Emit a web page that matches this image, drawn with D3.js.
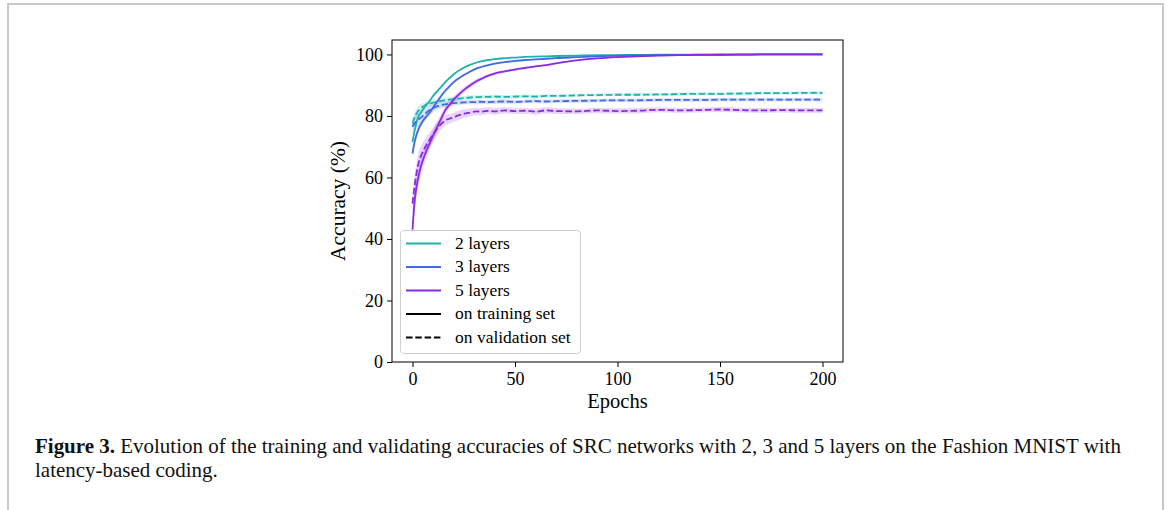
<!DOCTYPE html>
<html>
<head>
<meta charset="utf-8">
<script src="https://cdn.jsdelivr.net/npm/d3@7"></script>
<style>
  body { margin: 0; background: #fff; }
  svg { display: block; }
</style>
</head>
<body>
<script>
const W = 1167, H = 510;

const epochs = [0,1,2,3,4,5,6,7,8,10,12,14,16,18,20,22,25,28,31,34,37,40,45,50,55,60,65,70,80,90,100,110,120,130,140,150,160,170,180,190,200];

const train2 = [71.6,75,78,80,81,82,83,83.8,84.5,86.5,88,89.5,91,92.3,93.5,94.5,95.7,96.6,97.3,97.8,98.2,98.5,98.8,99,99.2,99.3,99.4,99.5,99.65,99.75,99.8,99.85,99.9,99.9,99.95,99.95,100,100,100,100,100];
const val2 = [77.5,79.5,80.8,81.8,82.5,83,83.4,83.8,84,84.3,84.6,84.9,85.1,85.3,85.5,85.6,85.8,86,86.1,86.2,86.2,86.3,86.2,86.3,86.4,86.3,86.5,86.5,86.7,86.8,86.9,86.9,87,87.1,87.2,87.2,87.3,87.4,87.4,87.5,87.5];
const train3 = [67.8,71.5,74,75.8,77.2,78.3,79.2,80,80.8,82.7,84.6,86.5,88.2,89.6,90.9,92,93.3,94.4,95.4,96,96.5,97,97.5,97.9,98.2,98.4,98.6,98.8,99.1,99.4,99.6,99.7,99.8,99.85,99.9,99.9,99.95,100,100,100,100];
const val3 = [76.5,77.5,78.3,78.9,79.4,80,80.6,81.2,81.7,82.5,83.1,83.5,83.8,84,84.2,84.3,84.4,84.5,84.5,84.6,84.5,84.6,84.7,84.6,84.7,84.8,84.7,84.8,84.9,85,85.1,85.1,85.2,85.2,85.2,85.3,85.3,85.3,85.3,85.3,85.3];
const train5 = [43,52,57,60.5,63.3,65.5,67.3,69,70.5,73.5,76.4,79.2,81.9,83.6,85.2,86.6,88.4,89.9,91.2,92.2,93.1,93.8,94.5,95.1,95.6,96.1,96.5,97.1,98.1,98.7,99.1,99.4,99.6,99.75,99.85,99.9,99.95,100,100,100,100];
const val5 = [51.5,57,61.5,64.8,66.8,68.3,69.6,70.8,71.9,74,75.9,77.4,78.6,79.1,79.5,80.1,80.7,81.1,81.5,81.4,81.7,81.5,81.8,81.6,81.7,81.4,81.8,81.6,81.5,81.8,81.6,81.7,82,81.8,81.9,82.1,81.9,81.8,81.9,81.8,81.8];

// spread (std) around each curve
const train2Std = [1.2,1,0.9,0.8,0.7,0.7,0.6,0.6,0.6,0.5,0.5,0.4,0.4,0.4,0.3,0.3,0.3,0.2,0.2,0.2,0.2,0.15,0.15,0.1,0.1,0.1,0.1,0.1,0.1,0.05,0.05,0.05,0.05,0.05,0.05,0.05,0,0,0,0,0];
const val2Std = [1.8,1.6,1.5,1.4,1.3,1.2,1.1,1,1,0.9,0.9,0.8,0.8,0.8,0.7,0.7,0.7,0.7,0.6,0.6,0.6,0.6,0.6,0.6,0.6,0.6,0.6,0.6,0.5,0.5,0.5,0.5,0.5,0.5,0.5,0.5,0.5,0.5,0.5,0.5,0.5];
const train3Std = [1.5,1.3,1.2,1.1,1,0.9,0.9,0.8,0.8,0.7,0.6,0.6,0.5,0.5,0.4,0.4,0.3,0.3,0.3,0.2,0.2,0.2,0.2,0.15,0.15,0.1,0.1,0.1,0.1,0.05,0.05,0.05,0.05,0.05,0.05,0,0,0,0,0,0];
const val3Std = [2.5,2.4,2.3,2.2,2,1.9,1.8,1.6,1.5,1.3,1.1,1,0.9,0.9,0.8,0.8,0.7,0.7,0.7,0.7,0.7,0.7,0.7,0.6,0.6,0.6,0.6,0.6,0.6,0.6,0.6,0.6,0.6,0.6,0.6,0.6,0.6,0.6,0.6,0.6,0.6];
const train5Std = [3,3.5,3.4,3.2,3,2.8,2.6,2.4,2.2,2,1.8,1.6,1.4,1.2,1.1,1,0.9,0.8,0.7,0.6,0.5,0.5,0.4,0.4,0.3,0.3,0.3,0.3,0.2,0.2,0.2,0.1,0.1,0.1,0.1,0.05,0.05,0,0,0,0];
const val5Std = [3,3.8,3.6,3.4,3.2,3,2.8,2.6,2.4,2.2,2,1.8,1.7,1.6,1.5,1.5,1.4,1.3,1.2,1.2,1.1,1.1,1,1,1,1,1,1,0.9,0.9,0.9,0.9,0.8,0.8,0.8,0.8,0.8,0.8,0.8,0.8,0.8];

const xTicks = [0, 50, 100, 150, 200];
const yTicks = [0, 20, 40, 60, 80, 100];

const series = [
  {name: '2 layers', color: '#20b2aa', train: train2, trainStd: train2Std, val: val2, valStd: val2Std},
  {name: '3 layers', color: '#4169e1', train: train3, trainStd: train3Std, val: val3, valStd: val3Std},
  {name: '5 layers', color: '#8a2be2', train: train5, trainStd: train5Std, val: val5, valStd: val5Std}
];

const serif = '"Liberation Serif", "DejaVu Serif", serif';

const svg = d3.select('body').append('svg')
  .attr('width', W)
  .attr('height', H);

// page frame
svg.append('path')
  .attr('d', `M8,${H} L8,4 L1163,4 L1163,${H}`)
  .attr('fill', 'none')
  .attr('stroke', '#c8c8c8')
  .attr('stroke-width', 2);

const pLeft = 392, pRight = 843, pTop = 40, pBottom = 362;

const x = d3.scaleLinear().domain([-10, 210]).range([pLeft, pRight]);
const y = d3.scaleLinear().domain([0, 104.7]).range([pBottom, pTop]);

const plot = svg.append('g');

plot.append('clipPath').attr('id', 'clip')
  .append('rect')
  .attr('x', pLeft).attr('y', pTop)
  .attr('width', pRight - pLeft).attr('height', pBottom - pTop);

const g = plot.append('g').attr('clip-path', 'url(#clip)');

const line = d3.line()
  .x((d) => x(d[0]))
  .y((d) => y(d[1]))
  .curve(d3.curveMonotoneX);

const area = d3.area()
  .x((d) => x(d[0]))
  .y0((d) => y(d[1] - d[2]))
  .y1((d) => y(d[1] + d[2]))
  .curve(d3.curveMonotoneX);

const pts = (vals, std) => epochs.map((e, i) => [e, vals[i], std[i]]);

series.forEach((s) => {
  g.append('path')
    .attr('d', area(pts(s.train, s.trainStd)))
    .attr('fill', s.color)
    .attr('fill-opacity', 0.2);
  g.append('path')
    .attr('d', area(pts(s.val, s.valStd)))
    .attr('fill', s.color)
    .attr('fill-opacity', 0.2);
});

series.forEach((s) => {
  g.append('path')
    .attr('d', line(pts(s.train, s.trainStd)))
    .attr('fill', 'none')
    .attr('stroke', s.color)
    .attr('stroke-width', 1.8);
  g.append('path')
    .attr('d', line(pts(s.val, s.valStd)))
    .attr('fill', 'none')
    .attr('stroke', s.color)
    .attr('stroke-width', 1.8)
    .attr('stroke-dasharray', '6.5,2.8');
});

// axes
const xAxis = plot.append('g')
  .attr('transform', `translate(0,${pBottom})`)
  .call(d3.axisBottom(x).tickValues(xTicks).tickSize(5).tickPadding(5));
const yAxis = plot.append('g')
  .attr('transform', `translate(${pLeft},0)`)
  .call(d3.axisLeft(y).tickValues(yTicks).tickSize(5).tickPadding(4));

[xAxis, yAxis].forEach((a) => {
  a.select('.domain').remove();
  a.selectAll('line').attr('stroke', '#000').attr('stroke-width', 1);
  a.selectAll('text')
    .attr('font-family', serif)
    .attr('font-size', 18)
    .attr('fill', '#000');
});

plot.append('rect')
  .attr('x', pLeft).attr('y', pTop)
  .attr('width', pRight - pLeft).attr('height', pBottom - pTop)
  .attr('fill', 'none')
  .attr('stroke', '#000')
  .attr('stroke-width', 1);

plot.append('text')
  .attr('x', (pLeft + pRight) / 2)
  .attr('y', 408)
  .attr('text-anchor', 'middle')
  .attr('font-family', serif)
  .attr('font-size', 20.5)
  .text('Epochs');

plot.append('text')
  .attr('transform', `translate(345,${(pTop + pBottom) / 2}) rotate(-90)`)
  .attr('text-anchor', 'middle')
  .attr('font-family', serif)
  .attr('font-size', 21.5)
  .text('Accuracy (%)');

// legend
const legendItems = [
  {label: '2 layers', color: '#20b2aa', dash: null},
  {label: '3 layers', color: '#4169e1', dash: null},
  {label: '5 layers', color: '#8a2be2', dash: null},
  {label: 'on training set', color: '#000', dash: null},
  {label: 'on validation set', color: '#000', dash: '6.5,2.8'}
];

const legend = plot.append('g');
legend.append('rect')
  .attr('x', 400.5).attr('y', 230.5)
  .attr('width', 180).attr('height', 123)
  .attr('rx', 3)
  .attr('fill', '#fff')
  .attr('fill-opacity', 0.8)
  .attr('stroke', '#d0d0d0')
  .attr('stroke-width', 1);

const rowY = d3.scaleLinear().domain([0, 4]).range([243.5, 337.5]);

legendItems.forEach((d, i) => {
  legend.append('line')
    .attr('x1', 406).attr('x2', 441)
    .attr('y1', rowY(i)).attr('y2', rowY(i))
    .attr('stroke', d.color)
    .attr('stroke-width', 1.8)
    .attr('stroke-dasharray', d.dash);
  legend.append('text')
    .attr('x', 455)
    .attr('y', rowY(i) + 5)
    .attr('font-family', serif)
    .attr('font-size', 17.5)
    .text(d.label);
});

// caption
const capLines = [
  [{t: 'Figure 3.', b: true}, {t: ' Evolution of the training and validating accuracies of SRC networks with 2, 3 and 5 layers on the Fashion MNIST with', b: false}],
  [{t: 'latency-based coding.', b: false}]
];

const cap = svg.append('g');
const capTexts = capLines.map((parts, i) => {
  const t = cap.append('text')
    .attr('x', 35)
    .attr('y', 453 + i * 23.5)
    .attr('font-family', serif)
    .attr('font-size', 20)
    .attr('fill', '#111');
  parts.forEach((p) => {
    t.append('tspan')
      .attr('font-weight', p.b ? 'bold' : 'normal')
      .text(p.t);
  });
  return t;
});
const w0 = capTexts[0].node().getComputedTextLength();
const fs = 20 * 1087 / w0;
capTexts.forEach((t) => t.attr('font-size', fs));
</script>
</body>
</html>
